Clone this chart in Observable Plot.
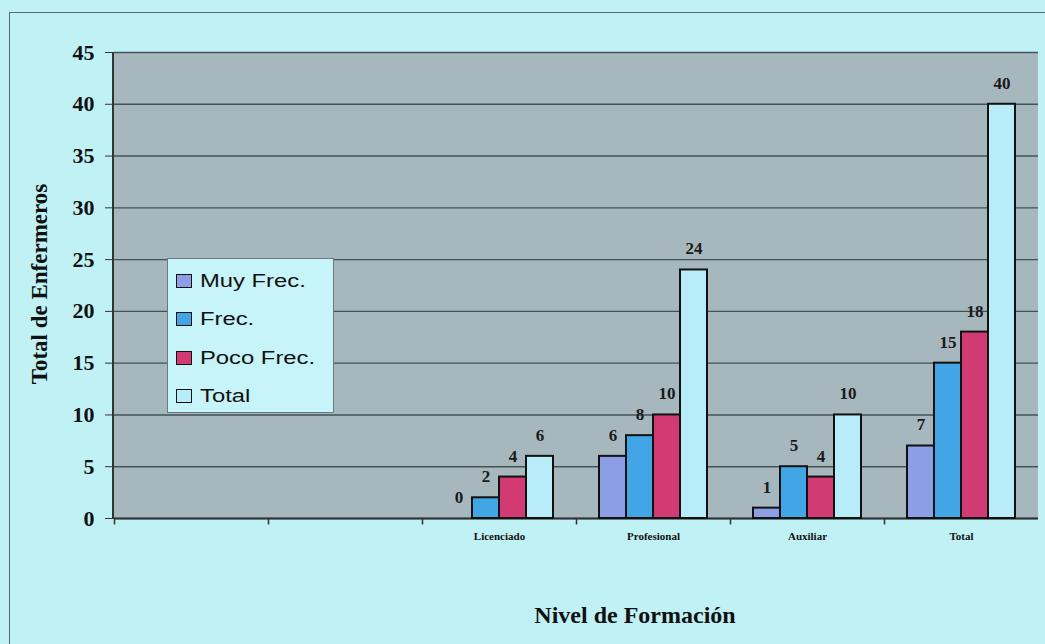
<!DOCTYPE html>
<html><head><meta charset="utf-8">
<script src="https://cdn.jsdelivr.net/npm/d3@7"></script>
<script src="https://cdn.jsdelivr.net/npm/@observablehq/plot@0.6"></script>
<style>
body{margin:0;background:#c0f1f5;}
#wrap{position:relative;width:1045px;height:644px;overflow:hidden;background:#c0f1f5;}
#border{position:absolute;left:9px;top:12px;width:1100px;height:700px;border-top:1.5px solid #5a6a70;border-left:1.5px solid #5a6a70;}
#chart{position:absolute;left:0;top:0;}
#yline{position:absolute;left:112px;top:52px;width:2px;height:467px;background:#333;}
#legend{position:absolute;left:167px;top:258px;width:165px;height:153px;background:#c6f4f8;border:1px solid #6a7a80;font-family:"Liberation Sans",Arial,sans-serif;}
.row{position:absolute;left:8px;height:24px;display:flex;align-items:center;}
.sw{width:14px;height:12px;border:1.6px solid #111;margin-right:8px;}
.lt{font-size:17.5px;color:#111;display:inline-block;transform:scaleX(1.36);transform-origin:left center;white-space:nowrap;}
#ytitle{position:absolute;left:40px;top:284px;transform:translate(-50%,-50%) rotate(-90deg);font-family:"Liberation Serif",serif;font-weight:bold;font-size:23px;color:#111;white-space:nowrap;}
#xtitle{position:absolute;left:635px;top:602px;transform:translateX(-50%);font-family:"Liberation Serif",serif;font-weight:bold;font-size:24px;color:#111;white-space:nowrap;}
</style></head><body>
<div id="wrap">
<div id="border"></div>
<div id="chart"></div>
<div id="yline"></div>
<div id="legend"></div>
<div id="ytitle">Total de Enfermeros</div>
<div id="xtitle">Nivel de Formación</div>
</div>
<script>
const niveles = ["", " ", "Licenciado", "Profesional", "Auxiliar", "Total"];
const grupos = ["Licenciado", "Profesional", "Auxiliar", "Total"];
const series = ["Muy Frec.", "Frec.", "Poco Frec.", "Total"];
const muyFrec = [0, 6, 1, 7];
const frec = [2, 8, 5, 15];
const pocoFrec = [4, 10, 4, 18];
const total = [6, 24, 10, 40];
const colores = ["#8c9ee6", "#42a6e6", "#d13a72", "#b8ecf8"];
const yTicks = [0, 5, 10, 15, 20, 25, 30, 35, 40, 45];

const valores = [muyFrec, frec, pocoFrec, total];
const data = [];
grupos.forEach((g, i) => series.forEach((s, j) => data.push({nivel: g, serie: s, valor: valores[j][i]})));

const tickDown = {draw(context) { context.moveTo(0, 0); context.lineTo(0, 6); }};

const chart = Plot.plot({
  width: 1045, height: 644,
  marginLeft: 113, marginRight: 7, marginTop: 52, marginBottom: 126,
  style: {background: "transparent", fontFamily: "Liberation Serif, serif", color: "#111"},
  fx: {domain: niveles, paddingInner: 0, paddingOuter: 0, label: null},
  x: {domain: series, paddingInner: 0, paddingOuter: 0.8, axis: null},
  y: {domain: [0, 45], label: null},
  color: {domain: series, range: colores},
  marks: [
    Plot.barY(niveles, {fx: d => d, y1: 0, y2: 45, fill: "#a6b8be"}),
    Plot.gridY(yTicks, {stroke: "#2a3840", strokeOpacity: 0.8, strokeWidth: 1.4}),
    Plot.axisY(yTicks, {tickSize: 9, tickPadding: 11, fontSize: 22, fontWeight: "bold", label: null, stroke: "#333"}),
    Plot.ruleY([0], {stroke: "#333", strokeWidth: 2}),
    Plot.dot(niveles, {fx: d => d, frameAnchor: "bottom-left", symbol: tickDown, stroke: "#333", strokeWidth: 1.5}),
    Plot.barY(data, {fx: "nivel", x: "serie", y: "valor", fill: "serie", stroke: "#111", strokeWidth: 2}),
    Plot.text(data, {fx: "nivel", x: "serie", y: "valor", text: "valor", dy: -21, fontSize: 17, fontWeight: "bold", fill: "#1a1a1a"}),
    Plot.axisFx({anchor: "bottom", tickSize: 0, tickPadding: 14, fontSize: 11, fontWeight: "bold", label: null})
  ]
});
document.getElementById("chart").appendChild(chart);

const legend = document.getElementById("legend");
const tops = [10, 48, 87, 125];
series.forEach((s, i) => {
  const r = document.createElement("div");
  r.className = "row";
  r.style.top = tops[i] + "px";
  r.innerHTML = `<span class="sw" style="background:${colores[i]}"></span><span class="lt">${s}</span>`;
  legend.appendChild(r);
});
</script>
</body></html>
